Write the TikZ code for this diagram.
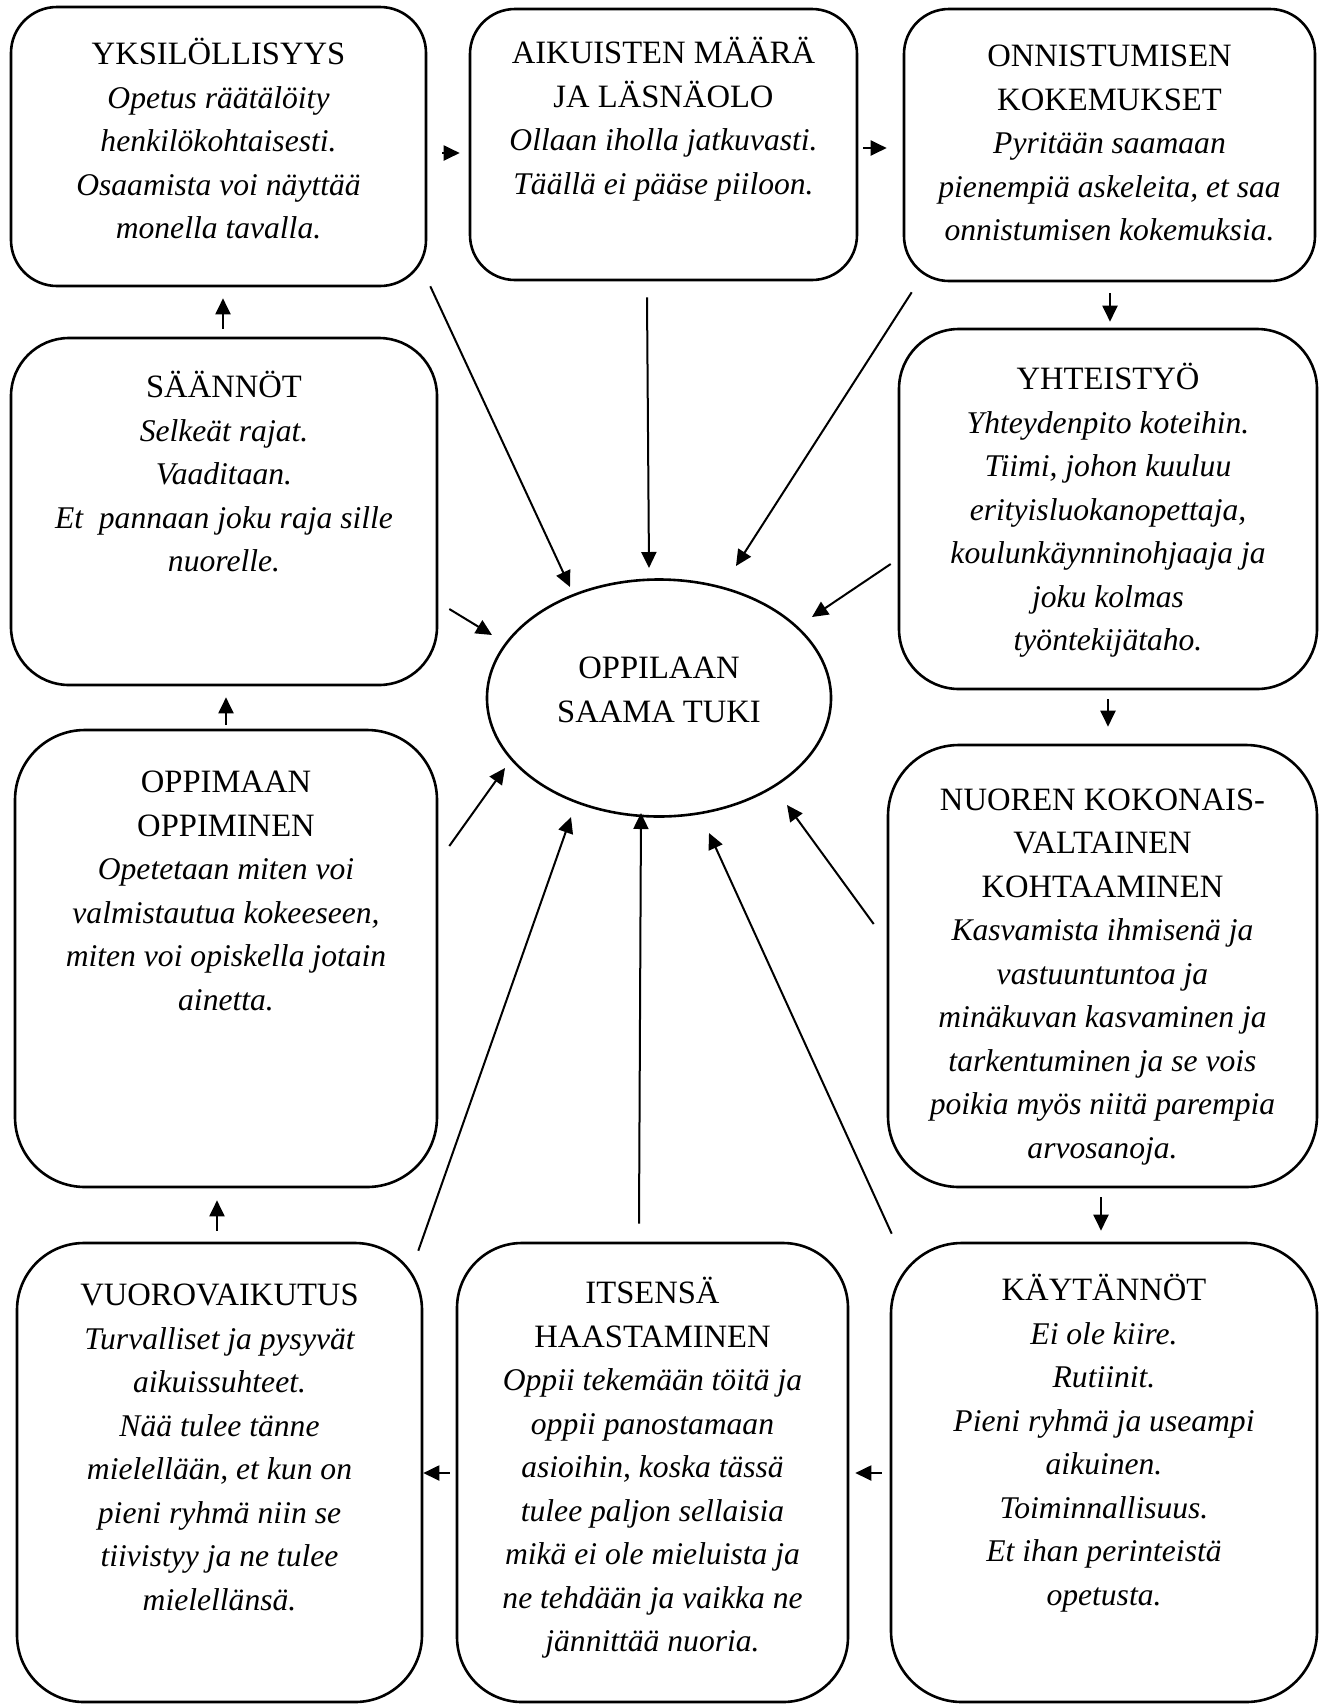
\documentclass[tikz,border=0pt]{standalone}
\usepackage{fontspec}
\setmainfont{Liberation Serif}
\usetikzlibrary{shapes.geometric,arrows.meta}
\newcommand\ttlx[1]{{\fontsize{16.3}{21.75}\selectfont #1}}
\tikzset{
  box/.style={draw, line width=1.3pt, rectangle, inner sep=0pt},
  txt/.style={inner sep=0pt, align=center, anchor=north, font=\fontsize{15.8}{21.75}\selectfont},
  arr/.style={line width=1pt, -{Triangle[length=8pt,width=7.5pt]}},
}
\begin{document}
\begin{tikzpicture}[x=0.5pt,y=-0.5pt]
\useasboundingbox (0,0) rectangle (1325,1704);
% boxes
\node[box, minimum width=207.5pt, minimum height=139.5pt, rounded corners=23pt] (b1) at (218.5,146.5) {};
\node[box, minimum width=193.5pt, minimum height=135.5pt, rounded corners=22.5pt] (b2) at (663.5,144.5) {};
\node[box, minimum width=205.5pt, minimum height=136pt, rounded corners=22.5pt] (b3) at (1109.5,145) {};
\node[box, minimum width=213pt, minimum height=173.5pt, rounded corners=29pt] (b4) at (224,511.5) {};
\node[box, minimum width=209pt, minimum height=180pt, rounded corners=30pt] (b5) at (1108,509) {};
\node[box, minimum width=211pt, minimum height=228.5pt, rounded corners=35pt] (b6) at (226,958.5) {};
\node[box, minimum width=214.5pt, minimum height=221pt, rounded corners=35.5pt] (b7) at (1102.5,966) {};
\node[box, minimum width=202.5pt, minimum height=229.5pt, rounded corners=33.5pt] (b8) at (219.5,1472.5) {};
\node[box, minimum width=195.5pt, minimum height=229.5pt, rounded corners=32.5pt] (b9) at (652.5,1472.5) {};
\node[box, minimum width=213pt, minimum height=229.5pt, rounded corners=35.5pt] (b10) at (1104,1472.5) {};
\node[draw, line width=1.3pt, ellipse, inner sep=0pt, minimum width=172pt, minimum height=118.5pt,
      align=center, font=\fontsize{16.3}{21.75}\selectfont] (ell) at (659,698)
  {OPPILAAN\\SAAMA TUKI\rule[-8.5pt]{0pt}{8.5pt}};
% texts
\node[txt] (t1) at ([yshift=-14pt]b1.north) {\strut\ttlx{YKSILÖLLISYYS}\\ \itshape Opetus räätälöity\\ \itshape henkilökohtaisesti.\\ \itshape Osaamista voi näyttää\\ \itshape monella tavalla.};
\node[txt] (t2) at ([yshift=-12.5pt]b2.north) {\strut\ttlx{AIKUISTEN MÄÄRÄ}\\ \ttlx{JA LÄSNÄOLO}\\ \itshape Ollaan iholla jatkuvasti.\\ \itshape Täällä ei pääse piiloon.};
\node[txt] (t3) at ([yshift=-14pt]b3.north) {\strut\ttlx{ONNISTUMISEN}\\ \ttlx{KOKEMUKSET}\\ \itshape Pyritään saamaan\\ \itshape pienempiä askeleita, et saa\\ \itshape onnistumisen kokemuksia.};
\node[txt] (t4) at ([yshift=-15pt]b4.north) {\strut\ttlx{SÄÄNNÖT}\\ \itshape Selkeät rajat.\\ \itshape Vaaditaan.\\ \itshape Et\ \ pannaan joku raja sille\\ \itshape nuorelle.};
\node[txt] (t5) at ([yshift=-15.5pt]b5.north) {\strut\ttlx{YHTEISTYÖ}\\ \itshape Yhteydenpito koteihin.\\ \itshape Tiimi, johon kuuluu\\ \itshape erityisluokanopettaja,\\ \itshape koulunkäynninohjaaja ja\\ \itshape joku kolmas\\ \itshape työntekijätaho.};
\node[txt] (t6) at ([yshift=-16.5pt]b6.north) {\strut\ttlx{OPPIMAAN}\\ \ttlx{OPPIMINEN}\\ \itshape Opetetaan miten voi\\ \itshape valmistautua kokeeseen,\\ \itshape miten voi opiskella jotain\\ \itshape ainetta.};
\node[txt] (t7) at ([yshift=-17.75pt]b7.north) {\strut\ttlx{NUOREN KOKONAIS-}\\ \ttlx{VALTAINEN}\\ \ttlx{KOHTAAMINEN}\\ \itshape Kasvamista ihmisenä ja\\ \itshape vastuuntuntoa ja\\ \itshape minäkuvan kasvaminen ja\\ \itshape tarkentuminen ja se vois\\ \itshape poikia myös niitä parempia\\ \itshape arvosanoja.};
\node[txt] (t8) at ([yshift=-16.5pt]b8.north) {\strut\ttlx{VUOROVAIKUTUS}\\ \itshape Turvalliset ja pysyvät\\ \itshape aikuissuhteet.\\ \itshape Nää tulee tänne\\ \itshape mielellään, et kun on\\ \itshape pieni ryhmä niin se\\ \itshape tiivistyy ja ne tulee\\ \itshape mielellänsä.};
\node[txt] (t9) at ([yshift=-15.5pt]b9.north) {\strut\ttlx{ITSENSÄ}\\ \ttlx{HAASTAMINEN}\\ \itshape Oppii tekemään töitä ja\\ \itshape oppii panostamaan\\ \itshape asioihin, koska tässä\\ \itshape tulee paljon sellaisia\\ \itshape mikä ei ole mieluista ja\\ \itshape ne tehdään ja vaikka ne\\ \itshape jännittää nuoria.};
\node[txt] (t10) at ([yshift=-14pt]b10.north) {\strut\ttlx{KÄYTÄNNÖT}\\ \itshape Ei ole kiire.\\ \itshape Rutiinit.\\ \itshape Pieni ryhmä ja useampi\\ \itshape aikuinen.\\ \itshape Toiminnallisuus.\\ \itshape Et ihan perinteistä\\ \itshape opetusta.};
% ring arrows
\draw[arr] ([shift={(15,6.5)}]b1.east) -- ([shift={(-9,8.5)}]b2.west);
\draw[arr] ([shift={(5,3.5)}]b2.east) -- ([shift={(-16,3)}]b3.west);
\draw[arr] ([shift={(0.5,11)}]b3.south) -- ([shift={(2,-6)}]b5.north);
\draw[arr] ([shift={(0,9)}]b5.south) -- ([shift={(5.5,-17)}]b7.north);
\draw[arr] ([shift={(-1.5,9)}]b7.south) -- ([shift={(-3,-11)}]b10.north);
\draw[arr] ([shift={(-8,0.5)}]b10.west) -- ([shift={(6,0.5)}]b9.east);
\draw[arr] ([shift={(-6,0.5)}]b9.west) -- ([shift={(0,0.5)}]b8.east);
\draw[arr] ([shift={(-2.5,-11)}]b8.north) -- ([shift={(-9,12)}]b6.south);
\draw[arr] ([shift={(0,-4)}]b6.north) -- ([shift={(2,11)}]b4.south);
\draw[arr] ([shift={(-1,-8)}]b4.north) -- ([shift={(4.5,11)}]b1.south);
% spokes
\draw[arr] ([shift={(3,-1)}]b1.south east) -- ([shift={(-89,-111)}]ell.center);
\draw[arr] ([shift={(-16.5,16)}]b2.south) -- ([shift={(-10,-130)}]ell.center);
\draw[arr] ([shift={(9,10)}]b3.south west) -- ([shift={(77,-132)}]ell.center);
\draw[arr] ([shift={(-7,55)}]b5.west) -- ([shift={(153,-81)}]ell.center);
\draw[arr] ([shift={(11,97.5)}]b4.east) -- ([shift={(-167,-63)}]ell.center);
\draw[arr] ([shift={(11,-112.5)}]b6.east) -- ([shift={(-154,70)}]ell.center);
\draw[arr] ([shift={(-5,9)}]b8.north east) -- ([shift={(-88,119)}]ell.center);
\draw[arr] ([shift={(-13.5,-18)}]b9.north) -- ([shift={(-18,115)}]ell.center);
\draw[arr] ([shift={(2,-8)}]b10.north west) -- ([shift={(50,135)}]ell.center);
\draw[arr] ([shift={(-13,-42)}]b7.west) -- ([shift={(128,107)}]ell.center);
\end{tikzpicture}
\end{document}
